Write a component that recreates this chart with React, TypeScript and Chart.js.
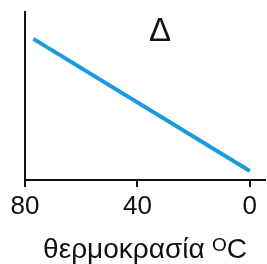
import React, { useEffect, useRef } from "react";
import { Chart, registerables } from "chart.js";

Chart.register(...registerables);

const temperatures = [77, 0];
const values = [84, 5.4];
const tickValues = [80, 40, 0];
const panelLabel = "Δ";
const xAxisTitle = "θερμοκρασία ᴼC";

const FONT = "'Liberation Sans', Arial, sans-serif";

const panelLabelPlugin = {
  id: "panelLabel",
  afterDraw(chart: any) {
    const { ctx, chartArea } = chart;
    ctx.save();
    ctx.font = `33px ${FONT}`;
    ctx.fillStyle = "#111";
    ctx.textAlign = "center";
    ctx.textBaseline = "middle";
    ctx.fillText(panelLabel, chartArea.left + 135, chartArea.top + 20);
    ctx.restore();
  },
};

export default function App() {
  const ref = useRef<HTMLCanvasElement | null>(null);

  useEffect(() => {
    document.body.style.margin = "0";
    const canvas = ref.current;
    if (!canvas) return;
    const chart = new Chart(canvas, {
      type: "line",
      data: {
        datasets: [
          {
            data: temperatures.map((t, i) => ({ x: t, y: values[i] })),
            borderColor: "#1B9AE0",
            borderWidth: 4,
            pointRadius: 0,
            fill: false,
            tension: 0,
          },
        ],
      },
      options: {
        animation: false,
        responsive: false,
        maintainAspectRatio: false,
        layout: { padding: { top: 12, right: 2, left: 0, bottom: 0 } },
        plugins: {
          legend: { display: false },
          tooltip: { enabled: false },
          title: { display: false },
        },
        scales: {
          x: {
            type: "linear",
            reverse: true,
            min: -5.4,
            max: 80,
            afterBuildTicks: (scale: any) => {
              scale.ticks = tickValues.map((v) => ({ value: v }));
            },
            afterFit: (scale: any) => {
              scale.height = 84;
            },
            grid: {
              display: true,
              drawOnChartArea: false,
              drawTicks: true,
              tickLength: 7,
              color: "#111",
              lineWidth: 2,
            },
            border: { display: true, color: "#111", width: 2 },
            ticks: {
              color: "#111",
              font: { family: FONT, size: 26 },
              padding: 4,
              maxRotation: 0,
              autoSkip: false,
            },
            title: {
              display: true,
              text: xAxisTitle,
              color: "#111",
              font: { family: FONT, size: 28, lineHeight: 1 },
              padding: { top: 0, bottom: 0 },
            },
          },
          y: {
            type: "linear",
            min: 0,
            max: 100,
            afterFit: (scale: any) => {
              scale.width = 25;
            },
            grid: { display: false, drawTicks: false },
            border: { display: true, color: "#111", width: 2 },
            ticks: { display: false },
          },
        },
      },
      plugins: [panelLabelPlugin],
    });
    return () => chart.destroy();
  }, []);

  return (
    <div style={{ position: "fixed", left: 0, top: 0, width: 267, height: 264, background: "#fff" }}>
      <canvas ref={ref} width={267} height={264} style={{ width: 267, height: 264 }} />
    </div>
  );
}
